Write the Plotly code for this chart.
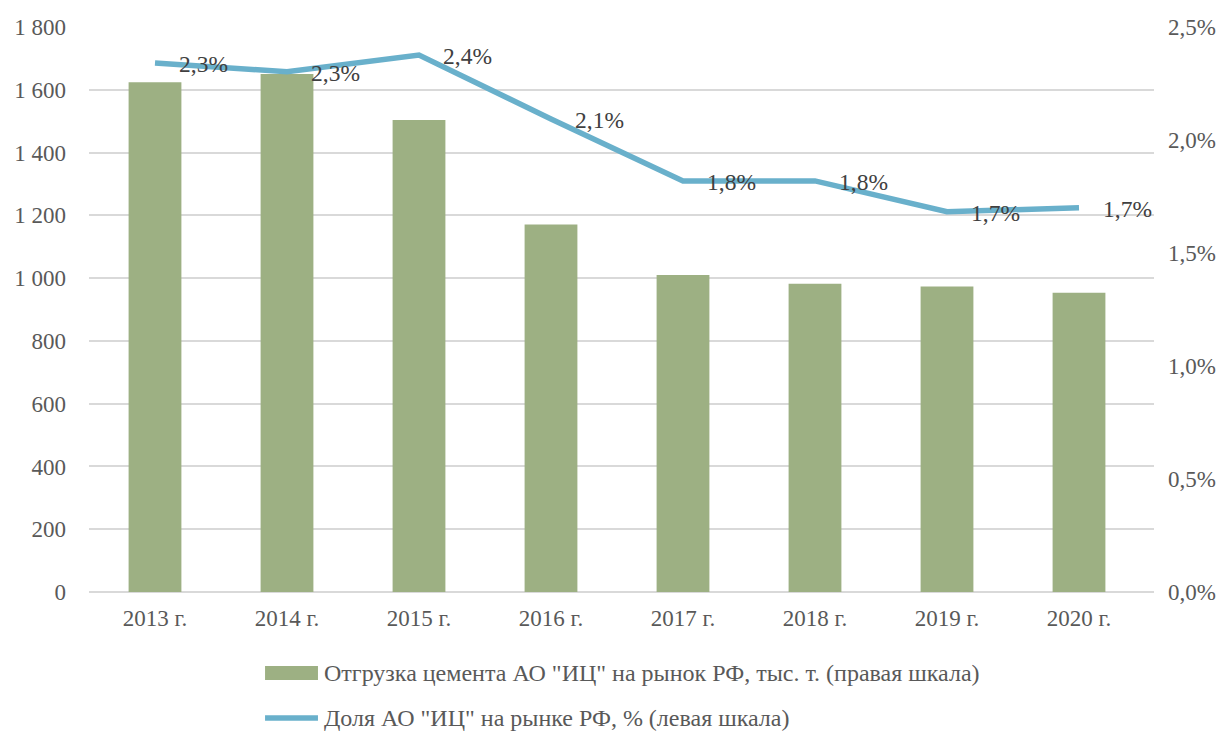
import plotly.graph_objects as go

years = ["2013 г.", "2014 г.", "2015 г.", "2016 г.", "2017 г.", "2018 г.", "2019 г.", "2020 г."]
shipments = [1624, 1650, 1504, 1171, 1010, 982, 973, 953]
share = [0.02341, 0.02302, 0.02376, 0.02093, 0.01819, 0.01819, 0.01683, 0.01700]
share_labels = ["2,3%", "2,3%", "2,4%", "2,1%", "1,8%", "1,8%", "1,7%", "1,7%"]

bar_name = 'Отгрузка цемента АО "ИЦ" на рынок РФ, тыс. т. (правая шкала)'
line_name = 'Доля АО "ИЦ" на рынке РФ, % (левая шкала)'

BAR_COLOR = "#9DB083"
LINE_COLOR = "#69B0CB"
FONT = "Liberation Serif, Times New Roman, DejaVu Serif, serif"
TXT = "#595959"

fig = go.Figure()
fig.add_trace(go.Bar(x=years, y=shipments, name=bar_name, marker=dict(color=BAR_COLOR, line=dict(width=0)),
                     yaxis="y"))
fig.add_trace(go.Scatter(x=years, y=share, name=line_name, mode="lines",
                         line=dict(color=LINE_COLOR, width=5.5), yaxis="y2"))

annotations = []
for x, y, t in zip(years, share, share_labels):
    annotations.append(dict(x=x, y=y, xref="x", yref="y2", text=t, showarrow=False,
                            xanchor="left", yanchor="middle", xshift=22, yshift=-1,
                            font=dict(family=FONT, size=23.5, color="#404040")))

# manual legend
annotations.append(dict(x=0.2188, y=-0.1434, xref="paper", yref="paper", text=bar_name, showarrow=False,
                        xanchor="left", yanchor="middle", font=dict(family=FONT, size=24, color=TXT)))
annotations.append(dict(x=0.2188, y=-0.2230, xref="paper", yref="paper", text=line_name, showarrow=False,
                        xanchor="left", yanchor="middle", font=dict(family=FONT, size=24, color=TXT)))
shapes = [
    dict(type="rect", xref="paper", yref="paper", x0=0.1653, x1=0.2150, y0=-0.1310, y1=-0.1558,
         fillcolor=BAR_COLOR, line=dict(width=0)),
    dict(type="line", xref="paper", yref="paper", x0=0.1653, x1=0.2150, y0=-0.2230, y1=-0.2230,
         line=dict(color=LINE_COLOR, width=5.5)),
]

fig.update_layout(
    width=1222, height=723,
    margin=dict(l=81, r=76, t=19, b=139, autoexpand=False),
    paper_bgcolor="white", plot_bgcolor="white",
    separators=", ",
    showlegend=False,
    bargap=0.6,
    font=dict(family=FONT, size=23, color=TXT),
    xaxis=dict(showgrid=False, showline=False, ticks="", automargin=False, ticklabelstandoff=10,
               tickfont=dict(size=23, color=TXT)),
    yaxis=dict(range=[0, 1800], tickvals=list(range(0, 1801, 200)), tickformat=",d", automargin=False,
               showgrid=True, gridcolor="#D9D9D9", gridwidth=1.5, zeroline=True, zerolinecolor="#D9D9D9",
               zerolinewidth=1.5, showline=False, ticks="", ticklabelstandoff=22,
               tickfont=dict(size=23, color=TXT)),
    yaxis2=dict(range=[0, 0.025], tickvals=[0, 0.005, 0.01, 0.015, 0.02, 0.025], tickformat=".1%",
                overlaying="y", side="right", showgrid=False, zeroline=False, showline=False, ticks="",
                automargin=False, ticklabelstandoff=13, tickfont=dict(size=23, color=TXT)),
    annotations=annotations,
    shapes=shapes,
)

fig.write_html("out.html")
